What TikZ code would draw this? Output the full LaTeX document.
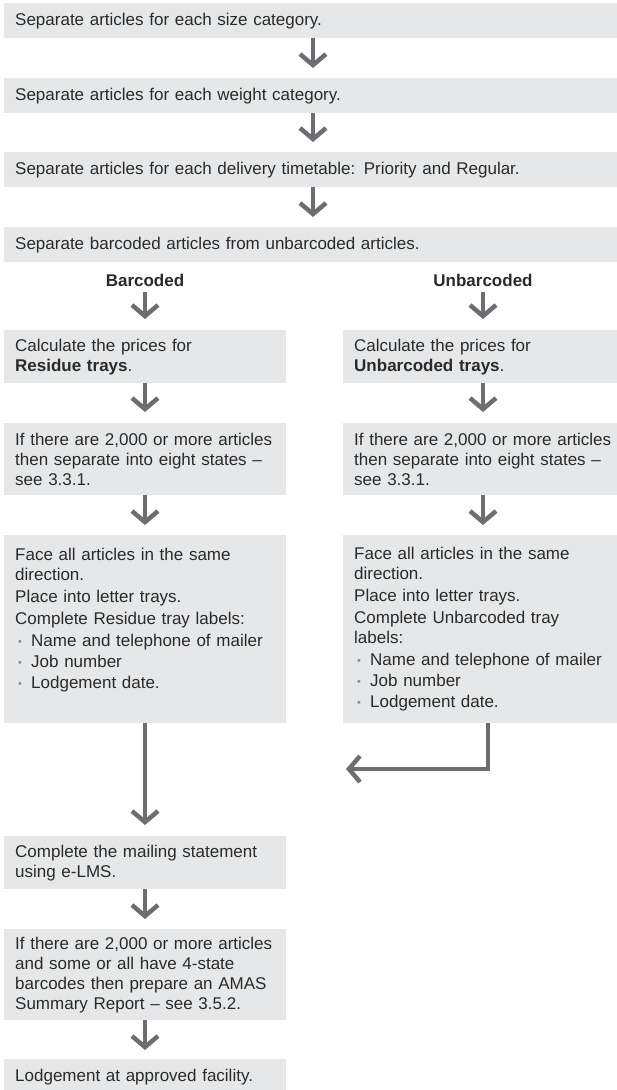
\documentclass[tikz,border=0pt]{standalone}
\usepackage{fontspec}
\setmainfont{Liberation Sans}
\usetikzlibrary{arrows.meta}
\definecolor{boxgray}{HTML}{E6E7E8}
\definecolor{arrowgray}{HTML}{6D6E71}
\definecolor{textcol}{HTML}{2A2A2A}
\definecolor{bulletgray}{HTML}{8A8C8E}
\newcommand\mybul{\hspace*{3pt}\makebox[13pt][l]{\textcolor{bulletgray}{\fontsize{11}{11}\selectfont\raisebox{1pt}{•}}}}
\begin{document}
\begin{tikzpicture}[x=1pt,y=-1pt,
  box/.style={fill=boxgray, draw=none, anchor=north west, inner xsep=11pt, inner ysep=0pt, align=left, text=textcol, font=\fontsize{17}{20}\selectfont},
  full/.style={box, text width=591pt},
  lcol/.style={box, text width=260pt},
  rcol/.style={box, text width=258pt},
  arr/.style={draw=arrowgray, line width=4.5pt, -{Straight Barb[length=11pt,width=26pt]}},
  lbl/.style={font=\fontsize{17}{20}\selectfont\bfseries, text=textcol}]
\clip (0,0) rectangle (617,1090);
\coordinate (mx) at (313,0);
\coordinate (lx) at (145,0);
\coordinate (rx) at (483,0);
\coordinate (rx2) at (488,0);
\coordinate (jn) at (346,769);

\node[full, minimum height=35pt] (b1) at (4,3) {Separate articles for each size category.};
\node[full, minimum height=35pt] (b2) at (4,78) {Separate articles for each weight category.};
\node[full, minimum height=35pt] (b3) at (4,152) {Separate articles for each delivery timetable: Priority and Regular.};
\node[full, minimum height=35pt] (b4) at (4,227) {Separate barcoded articles from unbarcoded articles.};

\node[lbl] (lb) at (145,280) {Barcoded};
\node[lbl] (lu) at (483,280) {Unbarcoded};

\node[lcol, minimum height=53pt] (c1L) at (4,330) {Calculate the prices for\\\textbf{Residue trays}.};
\node[rcol, minimum height=53pt] (c1R) at (343,330) {Calculate the prices for\\\textbf{Unbarcoded trays}.};

\node[lcol, minimum height=72pt] (c2L) at (4,423) {If there are 2,000 or more articles\\then separate into eight states –\\see 3.3.1.};
\node[rcol, minimum height=72pt] (c2R) at (343,423) {If there are 2,000 or more articles\\then separate into eight states –\\see 3.3.1.};

\node[lcol, minimum height=188pt] (c3L) at (4,535) {Face all articles in the same\\direction.\\[2pt]Place into letter trays.\\[2pt]Complete Residue tray labels:\\[2pt]\mybul Name and telephone of mailer\\[1pt]\mybul Job number\\[1pt]\mybul Lodgement date.\\[1pt]\mbox{}};
\node[rcol, minimum height=188pt] (c3R) at (343,535) {Face all articles in the same\\direction.\\[2pt]Place into letter trays.\\[2pt]Complete Unbarcoded tray\\labels:\\[2pt]\mybul Name and telephone of mailer\\[1pt]\mybul Job number\\[1pt]\mybul Lodgement date.};

\node[lcol, minimum height=53pt] (d1) at (4,836) {Complete the mailing statement\\using e-LMS.};
\node[lcol, minimum height=91pt] (d2) at (4,929) {If there are 2,000 or more articles\\and some or all have 4-state\\barcodes then prepare an AMAS\\Summary Report – see 3.5.2.};
\node[lcol, minimum height=36pt] (d3) at (4,1059) {Lodgement at approved facility.};

\draw[arr, shorten >=10pt] (b1.south -| mx) -- (b2.north -| mx);
\draw[arr, shorten >=10pt] (b2.south -| mx) -- (b3.north -| mx);
\draw[arr, shorten >=10pt] (b3.south -| mx) -- (b4.north -| mx);

\draw[arr, shorten <=2pt, shorten >=11pt] (lb.south) -- (c1L.north -| lx);
\draw[arr, shorten <=2pt, shorten >=11pt] (lu.south) -- (c1R.north -| rx);

\draw[arr, shorten >=11pt] (c1L.south -| lx) -- (c2L.north -| lx);
\draw[arr, shorten >=11pt] (c1R.south -| rx) -- (c2R.north -| rx);
\draw[arr, shorten >=10pt] (c2L.south -| lx) -- (c3L.north -| lx);
\draw[arr, shorten >=10pt] (c2R.south -| rx) -- (c3R.north -| rx);

\draw[arr, shorten >=11pt] (c3L.south -| lx) -- (d1.north -| lx);
\draw[arr] (c3R.south -| rx2) |- (jn);

\draw[arr, shorten >=10pt] (d1.south -| lx) -- (d2.north -| lx);
\draw[arr, shorten >=9pt] (d2.south -| lx) -- (d3.north -| lx);
\end{tikzpicture}
\end{document}
